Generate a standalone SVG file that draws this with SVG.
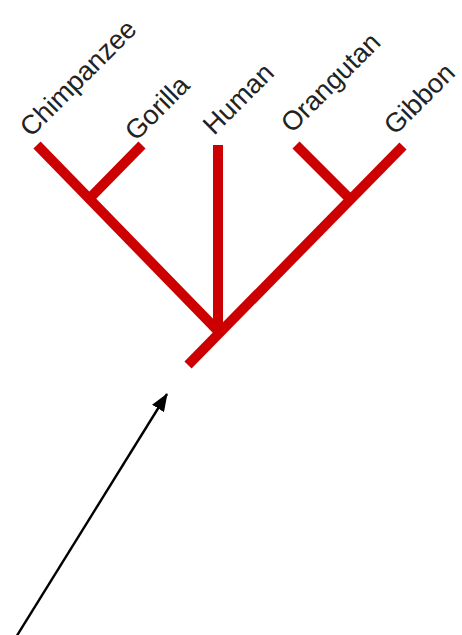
<svg xmlns="http://www.w3.org/2000/svg" width="462" height="635" viewBox="0 0 462 635">
<style>
.br{stroke:#cc0000;stroke-width:10;stroke-linecap:butt;fill:none}
.lb{font-family:"Liberation Sans",Arial,sans-serif;font-size:27px;fill:#222}
</style>
<defs>
<marker id="ah" markerWidth="18" markerHeight="14" refX="17" refY="7" orient="auto" markerUnits="userSpaceOnUse">
<path d="M0,0 L18,7 L0,14 Z" fill="#000"/>
</marker>
</defs>
<rect width="462" height="635" fill="#fff"/>
<g id="tree">
<line class="br" x1="403" y1="146" x2="188" y2="365"/>
<line class="br" x1="37" y1="145" x2="220" y2="333"/>
<line class="br" x1="142" y1="145" x2="87" y2="201"/>
<line class="br" x1="296" y1="145" x2="353" y2="202"/>
<line class="br" x1="218" y1="145" x2="218" y2="332"/>
</g>
<g id="chimpanzee"><text class="lb" x="31" y="138" transform="rotate(-45 31 138)">Chimpanzee</text></g>
<g id="gorilla"><text class="lb" x="136" y="142" transform="rotate(-45 136 142)">Gorilla</text></g>
<g id="human"><text class="lb" x="214" y="136" transform="rotate(-45 214 136)">Human</text></g>
<g id="orangutan"><text class="lb" x="292" y="134" transform="rotate(-45 292 134)">Orangutan</text></g>
<g id="gibbon"><text class="lb" x="395" y="136" transform="rotate(-45 395 136)">Gibbon</text></g>
<g id="connectors">
<line x1="13" y1="642" x2="167" y2="394" stroke="#000" stroke-width="2.4" marker-end="url(#ah)"/>
</g>
</svg>
